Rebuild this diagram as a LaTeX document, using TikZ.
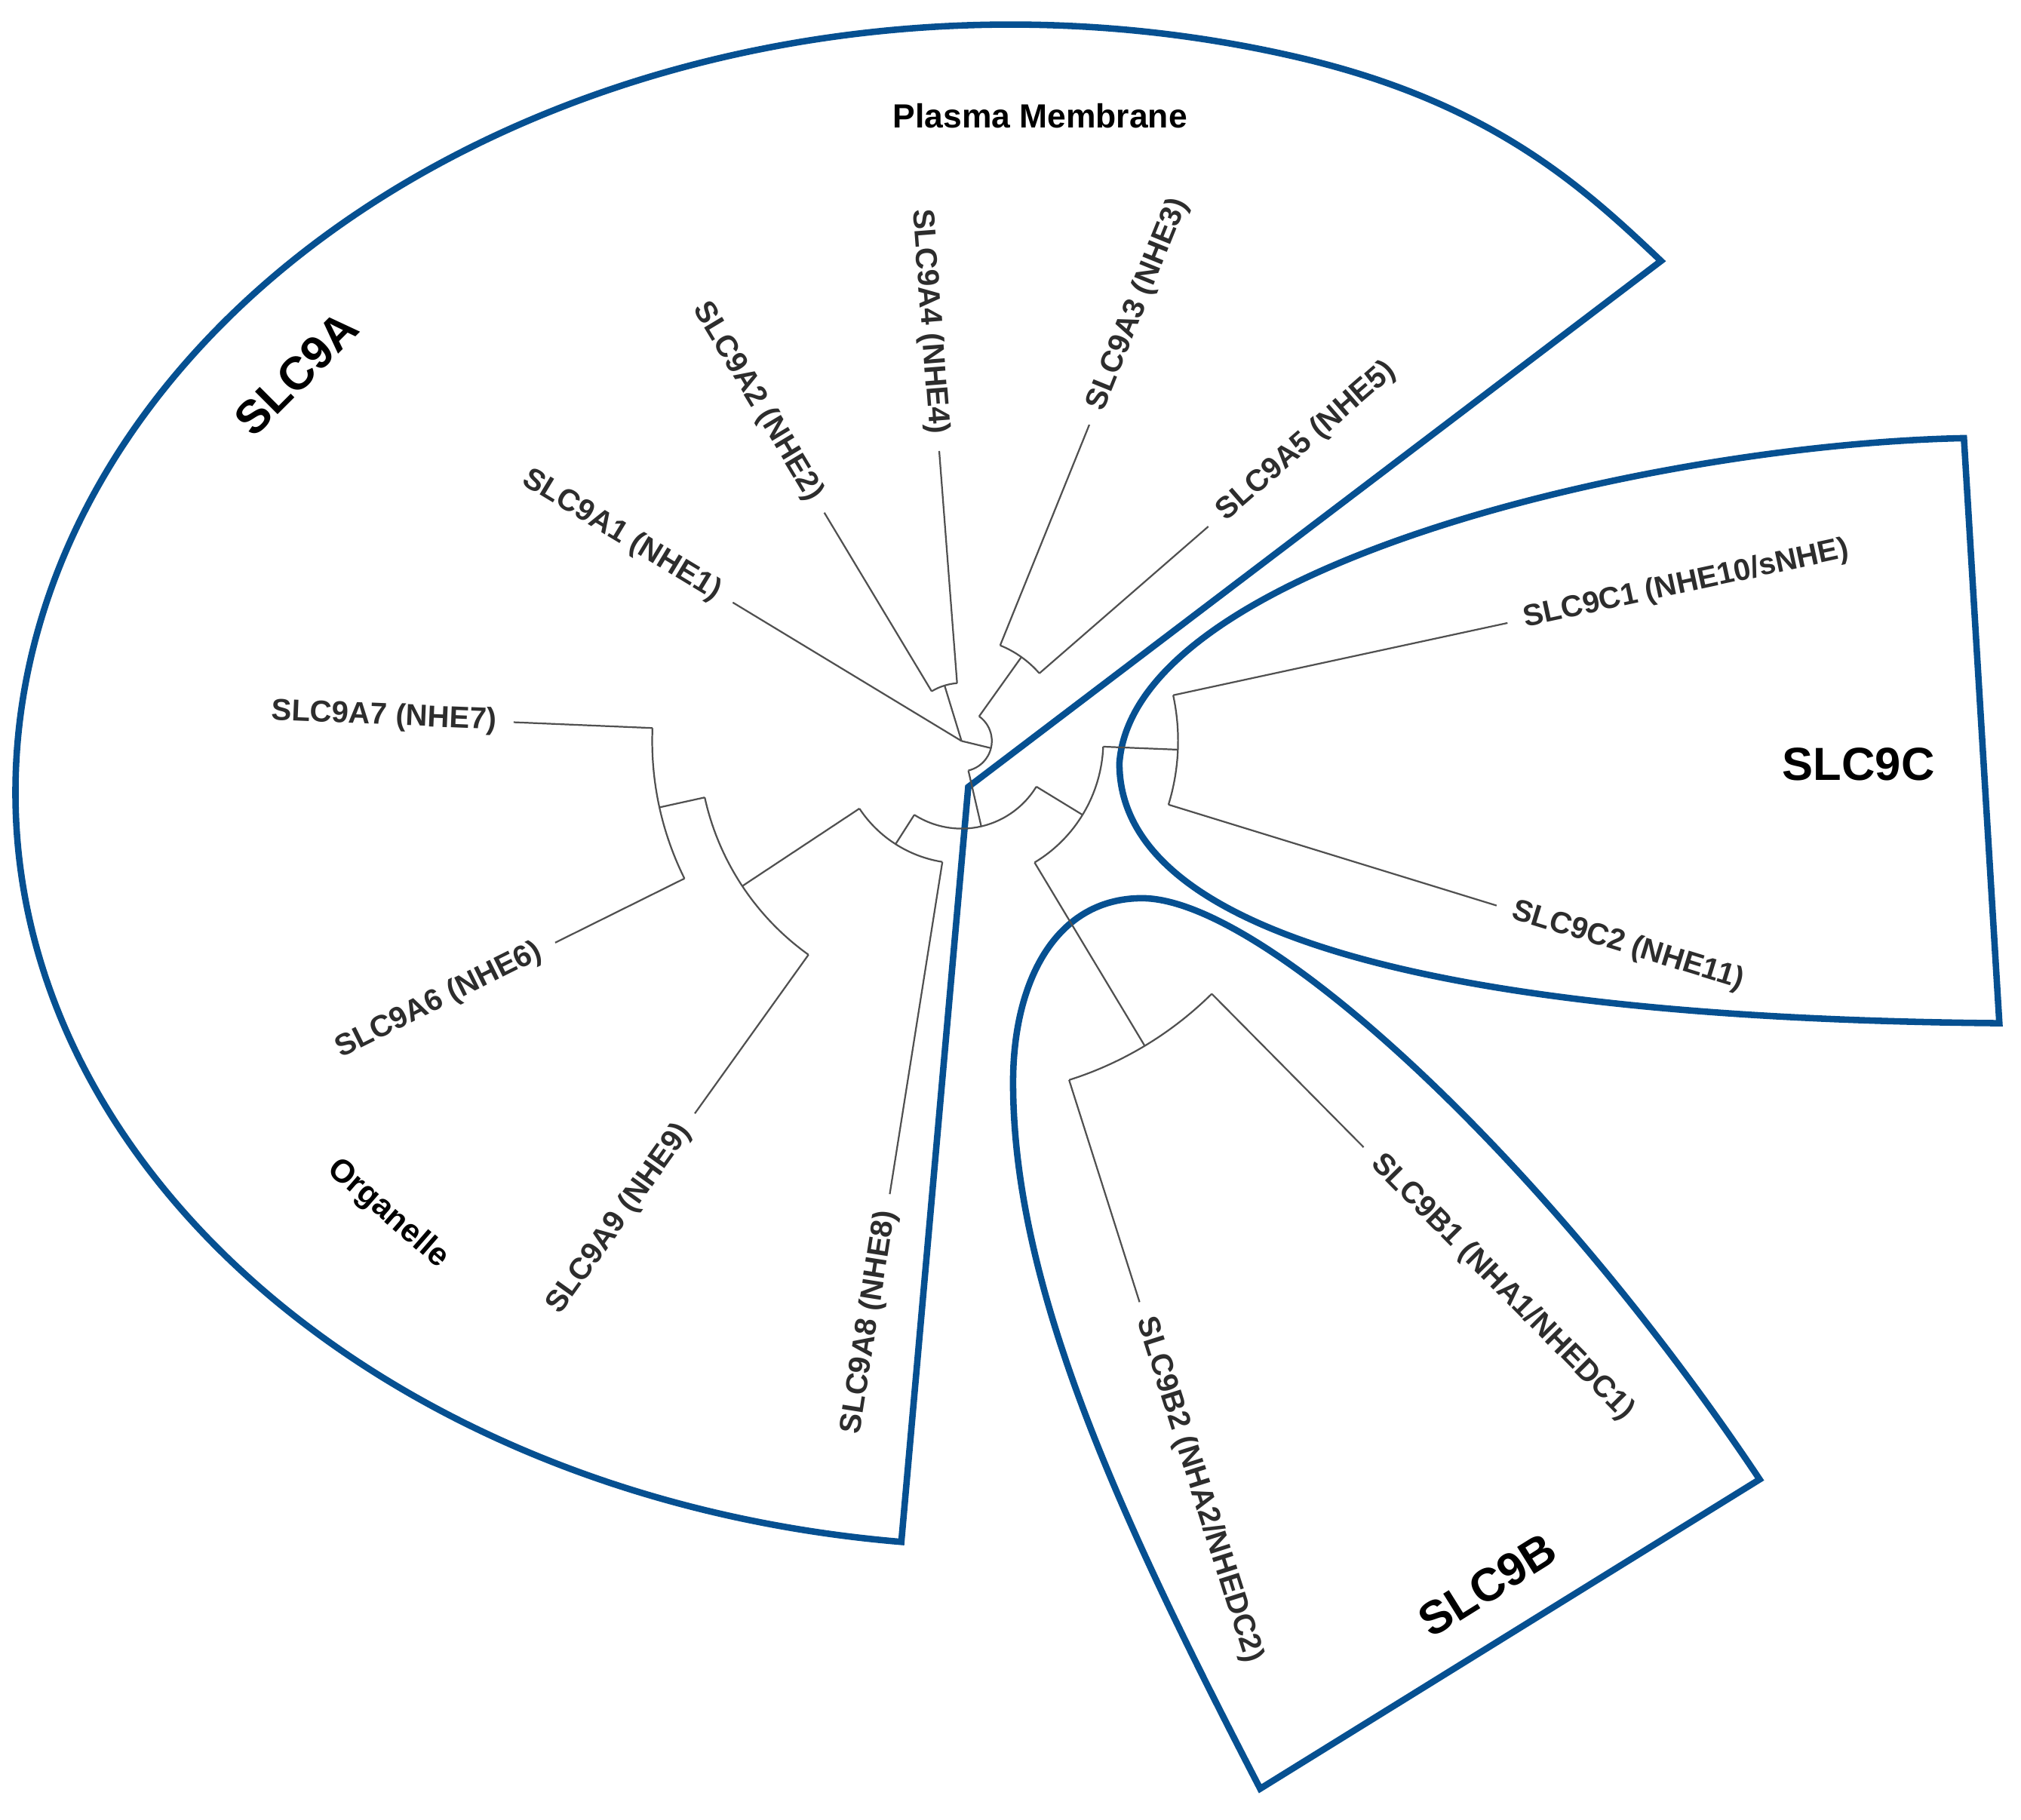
\documentclass[tikz,border=0pt]{standalone}
\usepackage{fontspec}
\setmainfont{Liberation Sans}
\usetikzlibrary{calc}
\definecolor{bluebox}{RGB}{6,80,145}
\definecolor{treegray}{RGB}{80,80,80}
\definecolor{labelgray}{RGB}{45,45,45}
\tikzset{
  branch/.style={draw=treegray, line width=1.3pt},
  leaflab/.style={font=\fontsize{23.5}{28}\selectfont\bfseries, text=labelgray, inner sep=0pt},
  cladelab/.style={font=\fontsize{36}{42}\selectfont\bfseries, text=black, inner sep=0pt},
  loclab/.style={font=\fontsize{26}{31}\selectfont\bfseries, text=black, inner sep=0pt},
  regionline/.style={draw=bluebox, line width=5pt, line join=miter},
}
\begin{document}
\begin{tikzpicture}[x=1pt,y=1pt]
\useasboundingbox (0,0) rectangle (1568,-1412);

% ---------------- blue clade outlines ----------------
% SLC9A
\draw[regionline] (751.2,-610.7) -- (1288.7,-202.5)
  .. controls (1228.7,-145.5) and (1157.4,-80) .. (1009.7,-45.1)
  arc[start angle=73, end angle=180, x radius=772, y radius=596]
  arc[start angle=180, end angle=263.7, x radius=772, y radius=585]
  -- cycle;

% SLC9C
\draw[regionline] (1523.7,-340)
  .. controls (1280,-345) and (880,-440) .. (868.5,-592)
  .. controls (868,-720) and (1100,-790) .. (1551.2,-794)
  -- cycle;

% SLC9B
\draw[regionline] (977.7,-1388)
  .. controls (870,-1180) and (786,-1000) .. (786,-840)
  .. controls (786,-760) and (820,-697) .. (886,-697)
  .. controls (980,-697) and (1200,-900) .. (1365.2,-1148)
  -- cycle;

% ---------------- tree ----------------
\begin{scope}[shift={(746,-575)}]
  \coordinate (root) at (0,0);
  % SLC9A1
  \coordinate (A1tip) at (148.8:207.5);
  % A2/A4
  \coordinate (Wn) at (107:45);
  \coordinate (Wa) at (121:45);
  \coordinate (Wb) at (94.4:45);
  \coordinate (A2tip) at (121:206.7);
  \coordinate (A4tip) at (94.4:225.7);
  % P
  \coordinate (Pn) at (-13.6:23.5);
  \coordinate (Pa) at (54.5:23.5);
  \coordinate (Pb) at (-77:23.5);
  % V (A3/A5)
  \coordinate (Vn) at (54.5:80);
  \coordinate (Va) at (68:80);
  \coordinate (Vb) at (41:80);
  \coordinate (A3tip) at (68:264.7);
  \coordinate (A5tip) at (41:253.7);
  % Q
  \coordinate (Qn) at (-77:68);
  \coordinate (Qa) at (-31.4:68);
  \coordinate (Qb) at (-122.6:68);
  % R (organelle)
  \coordinate (Rn) at (-122.6:95);
  \coordinate (Ra) at (-99:95);
  \coordinate (Rb) at (-146.5:95);
  \coordinate (A8tip) at (-99:356);
  % T
  \coordinate (Tn) at (-146.5:204);
  \coordinate (Ta) at (-125.6:204);
  \coordinate (Tb) at (-167.6:204);
  \coordinate (A9tip) at (-125.6:355.5);
  % U
  \coordinate (Un) at (-167.6:240);
  \coordinate (Ua) at (-153.6:240);
  \coordinate (Ub) at (-182.4:240);
  \coordinate (A6tip) at (-153.6:352);
  \coordinate (A7tip) at (-182.4:347.8);
  % S
  \coordinate (Sn) at (-31.4:110);
  \coordinate (Sa) at (-2.3:110);
  \coordinate (Sb) at (-59:110);
  % C clade
  \coordinate (Cn) at (-2.3:168);
  \coordinate (Ca) at (12.2:168);
  \coordinate (Cb) at (-17.1:168);
  \coordinate (C1tip) at (12.2:433.4);
  \coordinate (C2tip) at (-17.1:434.3);
  % B clade
  \coordinate (Bn) at (-59:276);
  \coordinate (Ba) at (-45.3:276);
  \coordinate (Bb) at (-72.4:276);
  \coordinate (B1tip) at (-45.3:443.5);
  \coordinate (B2tip) at (-72.4:456.8);

  % root children
  \draw[branch] (root) -- (A1tip);
  \draw[branch] (root) -- (Wn);
  \draw[branch] (root) -- (Pn);
  % W
  \draw[branch] (Wa) arc[start angle=121, end angle=94.4, radius=45];
  \draw[branch] (Wa) -- (A2tip);
  \draw[branch] (Wb) -- (A4tip);
  % P
  \draw[branch] (Pa) arc[start angle=54.5, end angle=-77, radius=23.5];
  \draw[branch] (Pa) -- (Vn);
  \draw[branch] (Pb) -- (Qn);
  % V
  \draw[branch] (Va) arc[start angle=68, end angle=41, radius=80];
  \draw[branch] (Va) -- (A3tip);
  \draw[branch] (Vb) -- (A5tip);
  % Q
  \draw[branch] (Qa) arc[start angle=-31.4, end angle=-122.6, radius=68];
  \draw[branch] (Qb) -- (Rn);
  \draw[branch] (Qa) -- (Sn);
  % R
  \draw[branch] (Ra) arc[start angle=-99, end angle=-146.5, radius=95];
  \draw[branch] (Ra) -- (A8tip);
  \draw[branch] (Rb) -- (Tn);
  % T
  \draw[branch] (Ta) arc[start angle=-125.6, end angle=-167.6, radius=204];
  \draw[branch] (Ta) -- (A9tip);
  \draw[branch] (Tb) -- (Un);
  % U
  \draw[branch] (Ua) arc[start angle=-153.6, end angle=-182.4, radius=240];
  \draw[branch] (Ua) -- (A6tip);
  \draw[branch] (Ub) -- (A7tip);
  % S
  \draw[branch] (Sa) arc[start angle=-2.3, end angle=-59, radius=110];
  \draw[branch] (Sa) -- (Cn);
  \draw[branch] (Sb) -- (Bn);
  % C
  \draw[branch] (Ca) arc[start angle=12.2, end angle=-17.1, radius=168];
  \draw[branch] (Ca) -- (C1tip);
  \draw[branch] (Cb) -- (C2tip);
  % B
  \draw[branch] (Ba) arc[start angle=-45.3, end angle=-72.4, radius=276];
  \draw[branch] (Ba) -- (B1tip);
  \draw[branch] (Bb) -- (B2tip);

  % leaf labels
  \node[leaflab, anchor=east, rotate=-31.2] (lA1) at (148.8:220.5) {SLC9A1 (NHE1)};
  \node[leaflab, anchor=east, rotate=-59]   (lA2) at (121:219.7) {SLC9A2 (NHE2)};
  \node[leaflab, anchor=east, rotate=-85.6] (lA4) at (94.4:238.7) {SLC9A4 (NHE4)};
  \node[leaflab, anchor=west, rotate=68]    (lA3) at (68:277.7) {SLC9A3 (NHE3)};
  \node[leaflab, anchor=west, rotate=41]    (lA5) at (41:266.7) {SLC9A5 (NHE5)};
  \node[leaflab, anchor=west, rotate=12.2]  (lC1) at (12.2:446.4) {SLC9C1 (NHE10/sNHE)};
  \node[leaflab, anchor=west, rotate=-17.1] (lC2) at (-17.1:447.3) {SLC9C2 (NHE11)};
  \node[leaflab, anchor=west, rotate=-45.3] (lB1) at (-45.3:456.5) {SLC9B1 (NHA1/NHEDC1)};
  \node[leaflab, anchor=west, rotate=-72.4] (lB2) at (-72.4:469.8) {SLC9B2 (NHA2/NHEDC2)};
  \node[leaflab, anchor=east, rotate=81]    (lA8) at (-99:369) {SLC9A8 (NHE8)};
  \node[leaflab, anchor=east, rotate=54.4]  (lA9) at (-125.6:368.5) {SLC9A9 (NHE9)};
  \node[leaflab, anchor=east, rotate=26.4]  (lA6) at (-153.6:365) {SLC9A6 (NHE6)};
  \node[leaflab, anchor=east, rotate=-2.4]  (lA7) at (-182.4:360.8) {SLC9A7 (NHE7)};
\end{scope}

% ---------------- clade and location labels ----------------
\node[cladelab, rotate=45] (tA) at (230,-290) {SLC9A};
\node[cladelab, rotate=32] (tB) at (1154,-1230) {SLC9B};
\node[cladelab] (tC) at (1442,-593) {SLC9C};
\node[loclab] (pm) at (807,-90) {Plasma Membrane};
\node[loclab, font=\fontsize{25}{30}\selectfont\bfseries, rotate=-41] (org) at (301,-942) {Organelle};
\end{tikzpicture}
\end{document}
